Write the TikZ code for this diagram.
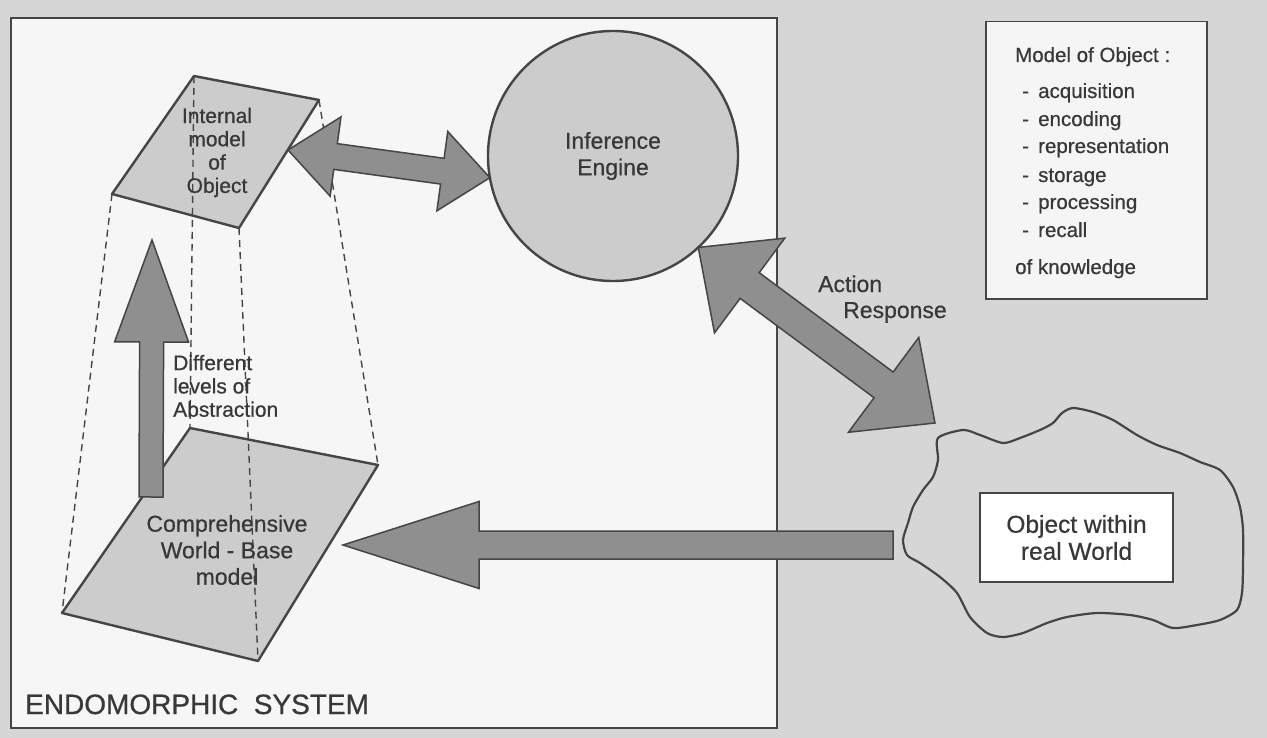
\documentclass[tikz,border=0pt]{standalone}
\usepackage{fontspec}
\setmainfont{Liberation Sans}[FakeBold=0.6]
\usetikzlibrary{calc,positioning}

\definecolor{paper}{gray}{0.84}
\definecolor{panel}{gray}{0.965}
\definecolor{shade}{gray}{0.80}
\definecolor{arrowgray}{gray}{0.56}
\definecolor{ink}{gray}{0.27}

\tikzset{
	outline/.style={draw=ink, line width=2.4pt, line join=round},
	plane/.style={outline, fill=shade},
	fat/.style={draw=ink, line width=1.5pt, fill=arrowgray, line join=miter},
	proj/.style={draw=ink, line width=1.4pt, dash pattern=on 7pt off 5pt},
	label/.style={inner sep=0pt, text=black!78},
	txtS/.style={label, font=\fontsize{21}{23.3}\selectfont},
	txtM/.style={label, font=\fontsize{23}{26.5}\selectfont},
	txtL/.style={label, font=\fontsize{24.5}{27}\selectfont},
	listtxt/.style={label, anchor=base west, font=\fontsize{20.5}{27.7}\selectfont},
}

% block arrow: tail, tip, shaft half width, head half width, head length
\newcommand{\fatarrow}[5]{%
	\coordinate (fa-h) at ($(#2)!#5!(#1)$);
	\filldraw[fat] ($(#1)!#3!90:(#2)$) -- ($(fa-h)!#3!90:(#2)$) -- ($(fa-h)!#4!90:(#2)$) -- (#2)
		-- ($(fa-h)!#4!-90:(#2)$) -- ($(fa-h)!#3!-90:(#2)$) -- ($(#1)!#3!-90:(#2)$) -- cycle;
}
% block arrow with a head at both ends
\newcommand{\fatdoublearrow}[5]{%
	\coordinate (fa-a) at ($(#1)!#5!(#2)$);
	\coordinate (fa-b) at ($(#2)!#5!(#1)$);
	\filldraw[fat] (#1) -- ($(fa-a)!#4!90:(#2)$) -- ($(fa-a)!#3!90:(#2)$)
		-- ($(fa-b)!#3!-90:(#1)$) -- ($(fa-b)!#4!-90:(#1)$) -- (#2)
		-- ($(fa-b)!#4!90:(#1)$) -- ($(fa-b)!#3!90:(#1)$)
		-- ($(fa-a)!#3!-90:(#2)$) -- ($(fa-a)!#4!-90:(#2)$) -- cycle;
}

\begin{document}
\begin{tikzpicture}[x=1pt, y=-1pt]
	\useasboundingbox (0,0) rectangle (1267,738);
	\fill[paper] (0,0) rectangle (1267,738);

	% the system panel
	\filldraw[draw=ink, line width=1.8pt, fill=panel] (11,18) rectangle (777,728);
	\node[txtL, font=\fontsize{28}{30}\selectfont, anchor=base west] (system) at (25,714) {ENDOMORPHIC\ \ SYSTEM};

	% legend box
	\node[draw=ink, line width=1.5pt, fill=white!96!black, minimum width=221pt, minimum height=277pt,
		inner sep=0pt, anchor=north west] (legend) at (985,21) {};
	\node[listtxt] (lg-title) at (1015,62) {Model of Object :};
	\node[listtxt] (lg-1) at (1022,98) {\makebox[16pt][l]{-}acquisition};
	\node[listtxt] (lg-2) at (1022,126) {\makebox[16pt][l]{-}encoding};
	\node[listtxt] (lg-3) at (1022,153) {\makebox[16pt][l]{-}representation};
	\node[listtxt] (lg-4) at (1022,182) {\makebox[16pt][l]{-}storage};
	\node[listtxt] (lg-5) at (1022,209) {\makebox[16pt][l]{-}processing};
	\node[listtxt] (lg-6) at (1022,237) {\makebox[16pt][l]{-}recall};
	\node[listtxt] (lg-end) at (1015,274) {of knowledge};

	% internal model and world-base planes
	\coordinate (im-t) at (194,76);
	\coordinate (im-r) at (319,100);
	\coordinate (im-b) at (239,228);
	\coordinate (im-l) at (112,194);
	\coordinate (wb-t) at (190,428);
	\coordinate (wb-r) at (378,465);
	\coordinate (wb-b) at (258,661);
	\coordinate (wb-l) at (62,613);
	\filldraw[plane] (im-t) -- (im-r) -- (im-b) -- (im-l) -- cycle;
	\filldraw[plane] (wb-t) -- (wb-r) -- (wb-b) -- (wb-l) -- cycle;

	% projection lines
	\draw[proj] (im-l) -- (wb-l);
	\draw[proj] (im-t) -- (wb-t);
	\draw[proj] (im-b) -- (wb-b);
	\draw[proj] (im-r) -- (wb-r);

	\node[txtS, align=center] (im-text) at (217,152.5) {Internal\\model\\of\\Object};
	\node[txtM, align=center] (wb-text) at (227,550) {Comprehensive\\World - Base\\model};

	% levels of abstraction
	\coordinate (abs-from) at (151,497);
	\coordinate (abs-to) at (152,240);
	\fatarrow{abs-from}{abs-to}{12pt}{37pt}{102pt}
	\node[txtS, align=left, anchor=north west] (abs-text) at (173,354.7) {Different\\levels of\\Abstraction};

	% inference engine
	\node[plane, circle, minimum size=250pt, inner sep=0pt, outer sep=0pt, txtM, align=center] (engine) at (613,156) {Inference\\Engine};
	\coordinate (im-port) at (288,150);
	\fatdoublearrow{im-port}{engine.190}{13pt}{40pt}{48pt}

	% real world
	\draw[outline, line width=2.2pt] plot[smooth cycle, tension=0.45] coordinates {
		(938,438) (963,430) (980,435) (1003,443) (1020,438) (1040,430) (1053,423) (1062,413)
		(1073,408) (1093,412) (1113,420) (1137,435) (1157,445) (1180,453) (1200,462) (1220,470)
		(1233,487) (1240,507) (1243,530) (1243,567) (1242,593) (1237,610) (1220,620) (1197,625)
		(1173,628) (1153,620) (1130,615) (1097,613) (1067,617) (1047,623) (1023,633) (1003,637)
		(987,633) (970,617) (957,593) (940,577) (920,563) (907,555) (903,540) (908,523)
		(913,507) (923,490) (933,477) (938,460)};
	\node[draw=ink, line width=1.5pt, fill=white, minimum width=193pt, minimum height=89pt, txtL, align=center] (object) at (1076.5,537.5) {Object within\\real World};

	% action / response
	\coordinate (world-port) at (935,423);
	\fatdoublearrow{engine.-47}{world-port}{16pt}{59pt}{64pt}
	\node[txtM, anchor=base west] (action) at (818,292) {Action};
	\node[txtM, anchor=base west] (response) at (843,318) {Response};

	% world feeds the base model
	\coordinate (obj-out) at (893,545);
	\coordinate (wb-in) at (343,545);
	\fatarrow{obj-out}{wb-in}{14pt}{43.5pt}{136pt}
\end{tikzpicture}
\end{document}
